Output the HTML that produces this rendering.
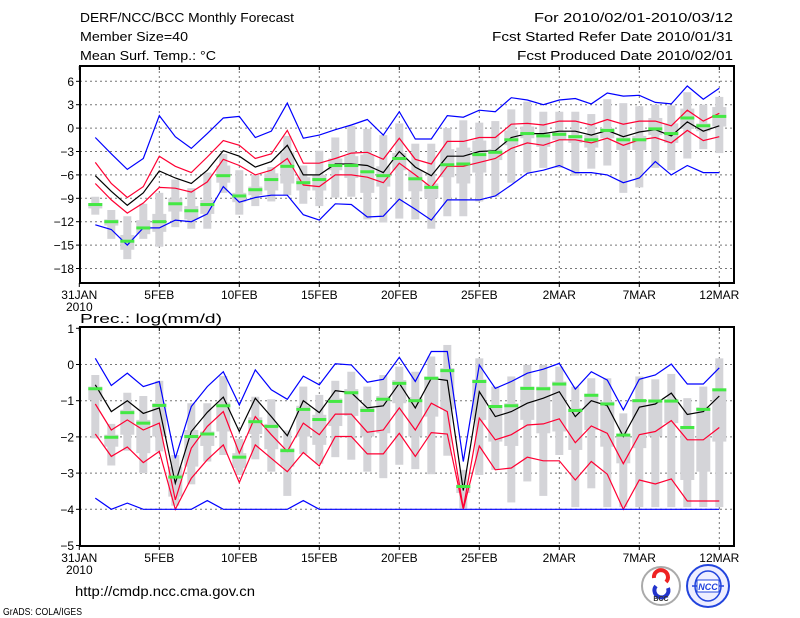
<!DOCTYPE html>
<html><head><meta charset="utf-8"><style>
html,body{margin:0;padding:0;background:#fff;}
svg{display:block;font-family:"Liberation Sans",sans-serif;}
</style></head><body>
<svg id="chart" width="800" height="618" viewBox="0 0 800 618" xmlns="http://www.w3.org/2000/svg">
<rect width="800" height="618" fill="#fff"/>
<g font-size="13" fill="#000">
<text x="80" y="22" textLength="214" lengthAdjust="spacingAndGlyphs">DERF/NCC/BCC Monthly Forecast</text>
<text x="80" y="41" textLength="108" lengthAdjust="spacingAndGlyphs">Member Size=40</text>
<text x="80" y="60" textLength="136" lengthAdjust="spacingAndGlyphs">Mean Surf. Temp.: °C</text>
<text x="733" y="22" text-anchor="end" textLength="199" lengthAdjust="spacingAndGlyphs">For 2010/02/01-2010/03/12</text>
<text x="733" y="41" text-anchor="end" textLength="241" lengthAdjust="spacingAndGlyphs">Fcst Started Refer Date 2010/01/31</text>
<text x="733" y="60" text-anchor="end" textLength="216" lengthAdjust="spacingAndGlyphs">Fcst Produced Date 2010/02/01</text>
</g>
<text x="80" y="323" font-size="13" textLength="142" lengthAdjust="spacingAndGlyphs">Prec.: log(mm/d)</text>
<g id="top"></g>
<g id="bot"></g>
<g>
<text x="75" y="596" font-size="14" textLength="180" lengthAdjust="spacingAndGlyphs">http://cmdp.ncc.cma.gov.cn</text>
<text x="3" y="615" font-size="10" textLength="79" lengthAdjust="spacingAndGlyphs">GrADS: COLA/IGES</text>
<g>
<circle cx="661" cy="586" r="19" fill="#fff" stroke="#aaa" stroke-width="2"/>
<path d="M654,578 a7,7 0 1 1 12,4" fill="none" stroke="#e22" stroke-width="4"/>
<path d="M668,588 a7,7 0 1 1 -12,-2" fill="none" stroke="#23c" stroke-width="4"/>
<text x="661" y="601" font-size="7" text-anchor="middle" font-weight="bold" fill="#333">BCC</text>
</g>
<g>
<circle cx="708" cy="586" r="21" fill="#eef" stroke="#24d" stroke-width="2"/>
<ellipse cx="708" cy="586" rx="13" ry="15" fill="none" stroke="#24d" stroke-width="1.5"/>
<line x1="692" y1="586" x2="724" y2="586" stroke="#24d" stroke-width="1.5"/>
<rect x="697" y="580" width="22" height="12" fill="#fff" stroke="#24d"/>
<text x="708" y="590" font-size="9" text-anchor="middle" font-weight="bold" font-style="italic" fill="#24d">NCC</text>
</g>
</g>
</svg>
<script>
var days=[];for(var i=1;i<=40;i++)days.push(i);
var xTickDays=[0,5,10,15,20,25,30,35,40];
var xTickLabels=["31JAN","5FEB","10FEB","15FEB","20FEB","25FEB","2MAR","7MAR","12MAR"];
var topYTicks=[6,3,0,-3,-6,-9,-12,-15,-18];
var botYTicks=[1,0,-1,-2,-3,-4,-5];

var tBlueU=[-1.2,-3.3,-5.3,-3.9,1.6,-1.1,-2.6,-0.7,1.3,1.5,-1.2,-0.4,3.2,-1.3,-0.9,-0.2,0.4,1.1,-0.9,2.1,-1.4,-1.4,1.6,1.4,2.3,2.1,3.9,3.6,3.0,3.6,3.8,3.1,4.5,4.1,4.2,3.3,3.1,5.4,3.7,5.1];
var tRedU=[-4.4,-7.1,-8.9,-7.5,-3.6,-4.9,-5.7,-3.7,-1.6,-2.2,-3.9,-3.3,-0.3,-4.5,-4.5,-3.9,-3.2,-3.1,-4.0,-1.3,-4.0,-4.6,-1.7,-1.7,-1.2,-1.2,0.5,0.6,0.4,0.9,0.9,0.4,1.1,0.5,0.9,0.9,0.3,2.3,0.9,1.9];
var tMean=[-6.1,-8.1,-9.9,-8.3,-5.5,-6.4,-7.1,-5.4,-2.9,-3.6,-5.0,-4.3,-2.2,-6.0,-6.0,-4.6,-4.6,-4.8,-5.7,-3.0,-5.0,-6.1,-3.6,-3.6,-3.0,-2.9,-1.2,-0.7,-0.7,-0.4,-0.4,-0.9,-0.3,-1.1,-0.5,-0.2,-1.0,0.8,-0.4,0.3];
var tRedL=[-7.1,-9.2,-10.9,-9.6,-7.6,-7.7,-8.2,-6.9,-4.0,-4.8,-6.0,-5.4,-3.9,-7.3,-7.5,-6.0,-6.0,-6.3,-7.0,-4.5,-6.0,-7.6,-4.9,-4.9,-4.4,-3.9,-2.6,-1.9,-2.2,-1.5,-1.5,-1.9,-1.3,-2.2,-1.5,-1.2,-1.9,-0.3,-1.6,-1.1];
var tBlueL=[-12.4,-13.0,-15.0,-12.8,-12.8,-11.8,-12.0,-11.0,-7.5,-9.5,-8.9,-8.6,-8.6,-11.1,-11.8,-9.7,-9.8,-11.4,-11.3,-9.1,-10.4,-11.8,-9.2,-9.2,-9.2,-8.7,-7.3,-5.8,-5.4,-4.8,-5.7,-5.7,-6.0,-7.0,-6.4,-4.3,-6.0,-4.8,-5.7,-5.7];
var tMax=[-8.8,-10.5,-11.3,-9.7,-8.3,-6.6,-7.7,-5.7,-3.3,-5.4,-6.0,-5.0,-1.0,-4.8,-2.9,-1.2,0.3,-0.1,-0.9,0.6,-2.0,-2.0,0.0,1.0,0.7,0.9,2.4,3.4,2.1,2.1,2.1,1.8,3.7,3.2,2.8,3.0,2.9,4.6,3.0,4.0];
var tQ3=[-9.6,-11.7,-13.7,-11.8,-11.0,-9.0,-10.0,-9.2,-4.8,-8.3,-7.5,-5.8,-3.1,-6.3,-6.0,-3.9,-3.6,-3.4,-4.9,-3.2,-5.4,-7.1,-2.7,-2.5,-1.6,-2.7,-0.3,0.2,-0.7,-0.4,-0.9,-0.9,0.0,-1.2,-1.0,1.3,0.6,2.5,0.6,2.7];
var tMed=[-9.8,-12.0,-14.5,-12.8,-12.0,-9.7,-10.6,-9.8,-6.1,-8.7,-7.9,-6.6,-4.9,-7.0,-6.6,-4.8,-4.8,-5.6,-6.1,-3.9,-6.5,-7.6,-4.7,-4.6,-3.4,-3.1,-1.5,-0.7,-1.0,-0.8,-1.1,-1.5,-0.3,-1.5,-1.5,-0.1,-0.7,1.3,0.3,1.5];
var tQ1=[-10.3,-12.5,-15.6,-13.6,-13.3,-10.7,-11.7,-11.0,-7.0,-9.5,-8.6,-8.0,-7.1,-8.0,-8.0,-5.4,-6.4,-8.3,-7.5,-5.4,-8.1,-9.0,-6.3,-7.1,-5.7,-4.1,-2.2,-1.3,-2.4,-1.5,-1.9,-2.5,-1.3,-2.8,-2.8,-0.9,-1.9,-0.1,-0.4,0.2];
var tMin=[-11.1,-14.2,-16.8,-14.2,-15.2,-12.7,-12.9,-12.9,-8.3,-11.1,-10.0,-9.4,-8.6,-9.7,-10.0,-8.9,-8.8,-11.7,-12.1,-11.6,-11.7,-12.9,-11.3,-11.3,-9.4,-8.8,-7.0,-5.7,-5.1,-5.1,-6.1,-5.2,-4.8,-8.3,-7.6,-5.1,-5.4,-3.9,-2.7,-3.2];

var bBlueU=[0.17,-0.58,-0.24,-0.61,-0.47,-2.59,-1.16,-0.61,-0.2,-1.12,-0.15,-0.7,-0.96,-0.32,-0.56,0.02,-0.01,-0.49,-0.41,0.2,-0.47,0.36,0.36,-2.68,-0.01,-0.66,-0.47,-0.24,-0.13,0.03,-0.68,-0.2,-0.43,-1.25,-0.41,-0.29,0.01,-0.54,-0.54,-0.09];
var bRedU=[-1.09,-1.81,-1.53,-1.81,-1.62,-3.74,-2.31,-1.71,-1.3,-2.45,-1.44,-1.94,-2.4,-1.62,-1.94,-1.37,-1.37,-1.87,-1.81,-1.2,-1.81,-1.07,-1.3,-3.97,-1.48,-2.08,-1.94,-1.67,-1.64,-1.5,-2.16,-1.7,-1.9,-2.74,-1.94,-1.85,-1.55,-2.08,-2.08,-1.74];
var bMean=[-0.56,-1.3,-1.0,-1.35,-1.2,-3.28,-1.85,-1.32,-0.9,-1.85,-0.93,-1.44,-1.97,-1.0,-1.33,-0.72,-0.78,-1.2,-1.14,-0.52,-1.2,-0.38,-0.44,-3.48,-0.75,-1.44,-1.3,-1.07,-0.93,-0.75,-1.44,-1.0,-1.14,-1.99,-1.18,-1.09,-0.79,-1.38,-1.3,-0.87];
var bRedL=[-1.92,-2.54,-2.28,-2.71,-2.4,-4,-3.14,-2.63,-2.22,-3.26,-2.22,-2.59,-2.96,-2.43,-2.8,-1.99,-1.99,-2.47,-2.47,-1.9,-2.54,-1.88,-1.92,-4,-2.25,-2.91,-2.86,-2.56,-2.66,-2.66,-3.19,-2.68,-3.03,-4,-3.19,-3.3,-3.16,-3.77,-3.77,-3.77];
var bBlueL=[-3.69,-4,-3.83,-4,-4,-4,-4,-3.76,-4,-4,-4,-4,-4,-3.76,-4,-4,-4,-4,-4,-4,-4,-4,-4,-4,-4,-4,-4,-4,-4,-4,-4,-4,-4,-4,-4,-4,-4,-4,-4,-4];
var bMax=[-0.29,-1.64,-0.78,-0.87,-0.45,-2.5,-1.07,-1.07,-0.32,-2.06,-0.89,-0.96,-1.82,-0.61,-0.84,-0.45,-0.2,-0.61,-0.29,-0.06,-0.2,0.22,0.54,-2.91,0.17,-0.61,-0.33,-0.01,-0.01,-0.06,-0.61,-0.38,-0.38,-1.35,-0.33,-0.41,-0.26,-0.93,-0.61,0.17];
var bQ3=[-0.61,-1.94,-1.25,-1.53,-1.07,-2.82,-1.81,-1.85,-1.05,-2.45,-1.46,-1.64,-2.31,-1.14,-1.39,-0.94,-0.68,-1.16,-0.87,-0.43,-0.9,-0.33,-0.1,-3.32,-0.41,-1.12,-1.07,-0.61,-0.61,-0.47,-1.2,-0.81,-1.02,-1.92,-0.96,-0.96,-0.96,-1.7,-1.18,-0.66];
var bMed=[-0.67,-2.01,-1.33,-1.62,-1.13,-3.11,-1.99,-1.92,-1.14,-2.56,-1.58,-1.71,-2.38,-1.24,-1.52,-1.02,-0.78,-1.27,-0.96,-0.52,-1.0,-0.38,-0.17,-3.37,-0.47,-1.16,-1.14,-0.66,-0.67,-0.54,-1.27,-0.85,-1.09,-1.95,-1.0,-1.01,-1.01,-1.74,-1.24,-0.7];
var bQ1=[-0.98,-2.27,-1.94,-2.45,-1.99,-3.65,-2.82,-2.25,-1.85,-2.86,-1.92,-2.34,-2.82,-1.99,-2.22,-1.7,-1.42,-1.99,-1.9,-1.07,-1.99,-1.44,-1.24,-3.55,-1.53,-2.13,-2.25,-1.53,-1.9,-1.85,-2.36,-1.81,-2.27,-2.73,-2.31,-1.99,-1.62,-3.19,-2.96,-2.13];
var bMin=[-2.04,-2.79,-2.38,-3.0,-2.4,-3.9,-3.31,-2.68,-2.5,-3.05,-2.62,-2.96,-3.63,-2.47,-2.74,-2.56,-2.63,-2.96,-3.14,-2.77,-2.89,-3.03,-2.52,-3.97,-3.05,-2.91,-3.81,-3.23,-3.63,-2.5,-3.94,-3.42,-3.94,-3.94,-3.94,-3.94,-3.94,-3.94,-3.94,-3.94];

var NS="http://www.w3.org/2000/svg";
function mk(parent,tag,attrs){var e=document.createElementNS(NS,tag);for(var k in attrs)e.setAttribute(k,attrs[k]);parent.appendChild(e);return e;}
function xScale(d){return 79.3+16*d;}
var FL=80,FR=734;

function drawPanel(g,cfg){
  var y=cfg.y;
  xTickDays.forEach(function(d){
    if(d>0){
      var gl=mk(g,"line",{x1:xScale(d),x2:xScale(d),y1:cfg.top,y2:cfg.bot,stroke:"#777","stroke-dasharray":"2,3","stroke-width":1});
      
      
    }
  });
  cfg.yTicks.forEach(function(v){
    var yy=y(v);
    if(yy>cfg.top+2&&yy<cfg.bot-2){
      var gl=mk(g,"line",{x1:FL,x2:FR,y1:yy,y2:yy,stroke:"#777","stroke-dasharray":"2,3","stroke-width":1});
      
      
    }
    var tk=mk(g,"line",{x1:FL-4,x2:FL,y1:yy,y2:yy,stroke:"#000","stroke-width":1});
    
    
    var t=mk(g,"text",{x:FL-6,y:yy+4.5,"font-size":12,"text-anchor":"end"});
    t.textContent=(v<0?"\u2212"+(-v):String(v));
    
    
  });
  days.forEach(function(d,i){
    var x=xScale(d);
    var w=mk(g,"rect",{x:x-4,y:y(cfg.max[i]),width:8,height:Math.max(1,y(cfg.min[i])-y(cfg.max[i])),fill:"#d4d4d8"});
    
    
    var b=mk(g,"rect",{x:x-7,y:y(cfg.q3[i]),width:14,height:Math.max(1,y(cfg.q1[i])-y(cfg.q3[i])),fill:"#d4d4d8"});
    
    
  });
  cfg.lines.forEach(function(L){
    var pts=days.map(function(d,i){return xScale(d).toFixed(1)+","+y(L.v[i]).toFixed(1);}).join(" ");
    var p=mk(g,"polyline",{points:pts,fill:"none",stroke:L.c,"stroke-width":1.2});
    
    
  });
  days.forEach(function(d,i){
    var m=mk(g,"rect",{x:xScale(d)-7,y:y(cfg.med[i])-1.5,width:14,height:3,fill:"#44e844"});
    
    
  });
  var f=mk(g,"rect",{x:FL,y:cfg.top,width:FR-FL,height:cfg.bot-cfg.top,fill:"none",stroke:"#000","stroke-width":2});
  
  
  xTickDays.forEach(function(d,k){
    var x=xScale(d);
    var t1=mk(g,"line",{x1:x,x2:x,y1:cfg.bot,y2:cfg.bot+4,stroke:"#000"});
    
    
    var t2=mk(g,"line",{x1:x,x2:x,y1:cfg.top,y2:cfg.top+4,stroke:"#000"});
    
    
    var t=mk(g,"text",{x:x,y:cfg.bot+16,"font-size":12,"text-anchor":"middle"});
    t.textContent=xTickLabels[k];
    
    
  });
  var yr=mk(g,"text",{x:xScale(0),y:cfg.bot+28,"font-size":12,"text-anchor":"middle"});
  yr.textContent="2010";
  
  
}

drawPanel(document.getElementById("top"),{
  top:66,bot:283,y:function(v){return 81.3+(6-v)*7.8;},yTicks:topYTicks,
  max:tMax,q3:tQ3,med:tMed,q1:tQ1,min:tMin,
  lines:[{v:tBlueU,c:"#0000ff",n:"temp-max-line"},{v:tRedU,c:"#ff0033",n:"temp-upper-line"},{v:tMean,c:"#000",n:"temp-mean-line"},{v:tRedL,c:"#ff0033",n:"temp-lower-line"},{v:tBlueL,c:"#0000ff",n:"temp-min-line"}]
});
drawPanel(document.getElementById("bot"),{
  top:327,bot:546,y:function(v){return 328.3+(1-v)*36.2;},yTicks:botYTicks,
  max:bMax,q3:bQ3,med:bMed,q1:bQ1,min:bMin,
  lines:[{v:bBlueU,c:"#0000ff",n:"prec-max-line"},{v:bRedU,c:"#ff0033",n:"prec-upper-line"},{v:bMean,c:"#000",n:"prec-mean-line"},{v:bRedL,c:"#ff0033",n:"prec-lower-line"},{v:bBlueL,c:"#0000ff",n:"prec-min-line"}]
});
</script>
</body></html>
